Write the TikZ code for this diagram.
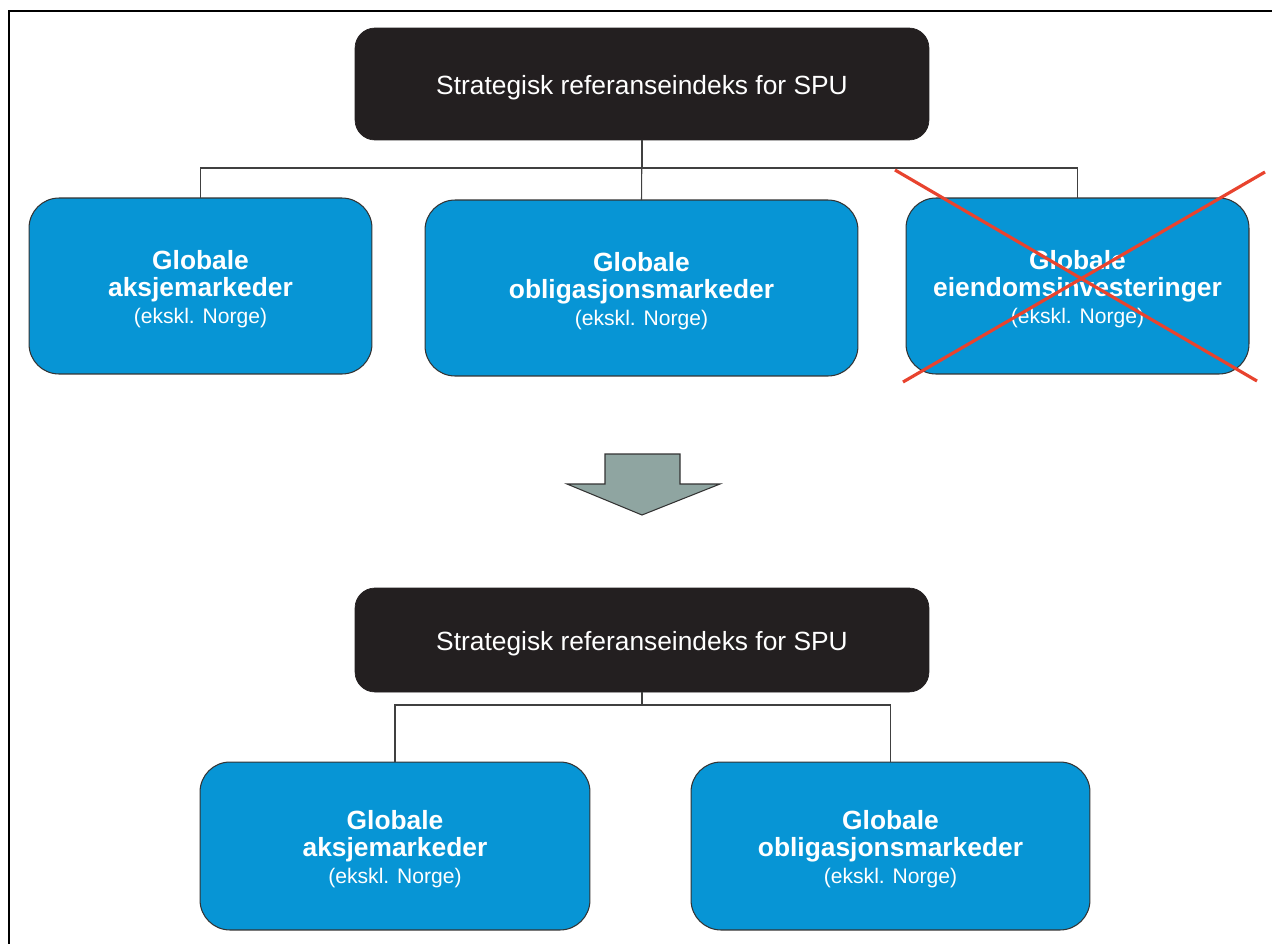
\documentclass[tikz,border=0pt]{standalone}
\usepackage{fontspec}
\setmainfont{Liberation Sans}
\definecolor{spudark}{HTML}{231F20}
\definecolor{spublue}{HTML}{0795D5}
\definecolor{arrowgrey}{HTML}{8FA5A1}
\definecolor{crossred}{HTML}{E8432E}
\newcommand{\lowstrut}{\rule{0pt}{14.5pt}}
\newcommand{\mktext}[1]{\lowstrut Globale\\#1\\{\mdseries\fontsize{12}{14}\selectfont (ekskl. Norge)}}

\begin{document}
\begin{tikzpicture}[x=0.02cm, y=-0.02cm, every node/.style={outer sep=0pt},
    indexbox/.style={rounded corners=0.4cm, fill=spudark, draw=spudark, text=white,
      minimum width=11.48cm, font=\fontsize{15}{18}\selectfont},
    marketbox/.style={rounded corners=0.6cm, fill=spublue, draw=black!80, line width=0.6pt,
      text=white, align=center, font=\bfseries\fontsize{15}{15.5}\selectfont},
    link/.style={draw=black!75, line width=0.6pt}]
        \useasboundingbox (0,0) rectangle (1272,944);
        % frame (top and left only)
        \draw [line width=1.7pt] (1272,11) -- (9,11) -- (9,944);
        % upper tree
        \node (top) [indexbox, minimum height=2.24cm] at (642,84) {\lowstrut Strategisk referanseindeks for SPU};
        \node (aksje) [marketbox, minimum width=6.86cm, minimum height=3.52cm] at (200.5,286) {\mktext{aksjemarkeder}};
        \node (oblig) [marketbox, minimum width=8.66cm, minimum height=3.52cm] at (641.5,288) {\mktext{obligasjonsmarkeder}};
        \node (eiendom) [marketbox, minimum width=6.86cm, minimum height=3.52cm] at (1077.5,286) {\mktext{eiendomsinvesteringer}};
        \draw [link] (top.south) -- ++(0,28) -| (aksje.north);
        \draw [link] (top.south) -- ++(0,28) -| (eiendom.north);
        \draw [link] (top.south) -- (oblig.north);
        % crossed out
        \draw [crossred, line width=1.8pt] (895,170) -- (1257,381);
        \draw [crossred, line width=1.8pt] (1265,172) -- (903,382);
        % block arrow
        \draw [fill=arrowgrey, draw=black!80, line width=0.6pt] (605,454) -- (680,454) -- (680,484) -- (720,484)
          -- (642,515) -- (567,484) -- (605,484) -- cycle;
        % lower tree
        \node (bottom) [indexbox, minimum height=2.08cm] at (642,640) {\lowstrut Strategisk referanseindeks for SPU};
        \node (aksje2) [marketbox, minimum width=7.8cm, minimum height=3.36cm] at (395,846) {\mktext{aksjemarkeder}};
        \node (oblig2) [marketbox, minimum width=7.98cm, minimum height=3.36cm] at (890.5,846) {\mktext{obligasjonsmarkeder}};
        \draw [link] (bottom.south) -- ++(0,13) -| (aksje2.north);
        \draw [link] (bottom.south) -- ++(0,13) -| (oblig2.north);
    \end{tikzpicture}
\end{document}
